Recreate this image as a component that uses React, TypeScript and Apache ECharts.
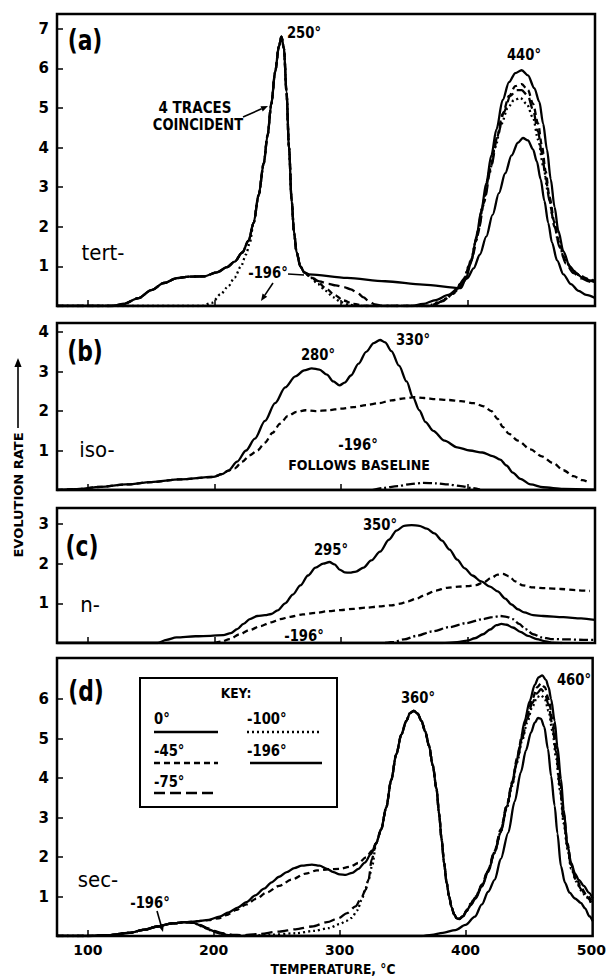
import { useEffect, useRef } from "react";
import * as echarts from "echarts";

type P = [number, number];

// ---------- axes ----------
const xMin = 75.5;
const xMax = 501;
const xTickValues = [100, 200, 300, 400];
const xLabelValues = [100, 200, 300, 400, 500];
const yTicksA = [1, 2, 3, 4, 5, 6, 7];
const yTicksB = [1, 2, 3, 4];
const yTicksC = [1, 2, 3];
const yTicksD = [1, 2, 3, 4, 5, 6];
const yMaxA = 7.37;
const yMaxB = 4.23;
const yMaxC = 3.4;
const yMaxD = 7.04;

const keyLabels = ["0°", "-45°", "-75°", "-100°", "-196°"];

// ---------- (a) tert- ----------
const tertRise0: P[] = [[75.5, 0], [118, 0], [128, 0.05], [140, 0.2], [150, 0.4], [160, 0.58], [170, 0.7], [180, 0.74], [192, 0.75], [202, 0.85], [210, 0.98], [216, 1.12], [222, 1.35], [227, 1.65]];
const tertRise100: P[] = [[75.5, 0], [190, 0], [198, 0.08], [205, 0.3], [211, 0.5], [216, 0.72], [221, 1.0], [225, 1.3], [228, 1.6]];
const tertPeak250: P[] = [[231, 2.1], [235, 2.8], [239, 3.6], [242, 4.3], [245, 5.1], [248, 5.9], [251, 6.55], [253, 6.8], [255, 6.5], [257, 5.4], [259, 4.0], [261, 2.7], [263, 1.85], [265, 1.35], [268, 1.0], [271, 0.85]];
const tert0Tail: P[] = [[275, 0.8], [305, 0.71], [335, 0.625], [365, 0.54], [395, 0.45], [399, 0.7], [403, 1.1], [407, 1.7], [411, 2.4], [415, 3.1], [419, 3.8], [423, 4.45], [428, 5.2], [433, 5.65], [438, 5.88], [443, 5.95], [448, 5.82], [453, 5.5], [457, 5.15], [460, 4.6], [463, 3.95], [466, 3.2], [469, 2.5], [472, 1.9], [476, 1.38], [481, 1.0], [486, 0.82], [491, 0.72], [496, 0.65], [501, 0.6]];
const tert45Tail: P[] = [[276, 0.74], [282, 0.6], [288, 0.45], [295, 0.28], [302, 0.14], [310, 0.05], [320, 0], [370, 0], [380, 0.12], [389, 0.32], [397, 0.65], [403, 1.15], [408, 1.8], [413, 2.6], [418, 3.45], [423, 4.2], [428, 4.85], [433, 5.3], [438, 5.55], [443, 5.6], [448, 5.45], [452, 5.1], [456, 4.6], [459, 4.05], [462, 3.4], [465, 2.75], [469, 2.1], [473, 1.55], [478, 1.12], [484, 0.88], [490, 0.75], [496, 0.68], [501, 0.63]];
const tert75Tail: P[] = [[276, 0.74], [283, 0.62], [290, 0.56], [296, 0.52], [302, 0.48], [308, 0.42], [313, 0.33], [318, 0.22], [322, 0.12], [327, 0.04], [333, 0], [372, 0], [382, 0.15], [390, 0.35], [398, 0.7], [404, 1.25], [409, 1.95], [414, 2.75], [419, 3.55], [424, 4.3], [429, 4.9], [434, 5.3], [439, 5.45], [443, 5.45], [448, 5.3], [452, 4.95], [456, 4.4], [459, 3.85], [462, 3.25], [465, 2.65], [469, 2.0], [473, 1.48], [478, 1.07], [484, 0.83], [490, 0.7], [496, 0.62], [501, 0.56]];
const tert100Tail: P[] = [[276, 0.72], [282, 0.55], [288, 0.38], [294, 0.22], [300, 0.1], [307, 0.03], [315, 0], [368, 0], [378, 0.1], [388, 0.3], [396, 0.6], [402, 1.05], [407, 1.65], [412, 2.5], [417, 3.3], [422, 4.0], [427, 4.6], [432, 5.0], [437, 5.2], [442, 5.25], [447, 5.1], [452, 4.75], [456, 4.2], [460, 3.55], [464, 2.85], [468, 2.2], [472, 1.62], [477, 1.17], [483, 0.9], [490, 0.75], [496, 0.66], [501, 0.6]];
const tert196: P[] = [[75.5, 0], [355, 0], [365, 0.05], [375, 0.15], [385, 0.28], [393, 0.45], [400, 0.7], [405, 0.95], [410, 1.3], [415, 1.75], [420, 2.3], [425, 2.85], [430, 3.35], [435, 3.8], [440, 4.12], [444, 4.24], [448, 4.18], [452, 3.95], [455, 3.65], [458, 3.2], [461, 2.65], [464, 2.1], [467, 1.6], [471, 1.15], [476, 0.8], [482, 0.55], [488, 0.38], [494, 0.28], [501, 0.2]];

// ---------- (b) iso- ----------
const isoBase: P[] = [[75.5, 0], [90, 0.02], [110, 0.08], [130, 0.14], [150, 0.2], [173, 0.27], [199, 0.33], [206, 0.4], [211, 0.49]];
const iso0: P[] = [[218, 0.72], [225, 1.0], [232, 1.3], [240, 1.75], [248, 2.2], [256, 2.6], [264, 2.88], [271, 3.03], [277, 3.08], [283, 3.05], [289, 2.92], [294, 2.75], [299, 2.65], [303, 2.72], [308, 2.9], [314, 3.2], [320, 3.5], [326, 3.72], [331, 3.8], [335, 3.74], [340, 3.52], [346, 3.15], [352, 2.75], [357, 2.35], [362, 2.02], [367, 1.72], [373, 1.5], [382, 1.25], [392, 1.08], [402, 1.0], [412, 0.95], [420, 0.86], [426, 0.77], [431, 0.62], [436, 0.44], [442, 0.28], [450, 0.14], [460, 0.07], [476, 0.03], [501, 0.01]];
const iso45: P[] = [[216, 0.55], [222, 0.72], [228, 0.88], [234, 1.0], [240, 1.2], [246, 1.45], [252, 1.68], [258, 1.87], [265, 1.98], [272, 2.02], [280, 2.0], [290, 2.02], [300, 2.06], [310, 2.1], [320, 2.15], [330, 2.2], [340, 2.27], [350, 2.32], [358, 2.35], [366, 2.33], [375, 2.3], [385, 2.28], [395, 2.25], [405, 2.2], [413, 2.12], [419, 2.0], [424, 1.8], [428, 1.6], [433, 1.42], [440, 1.25], [450, 1.03], [459, 0.85], [468, 0.68], [476, 0.5], [484, 0.35], [491, 0.25], [497, 0.18]];
const iso75: P[] = [[325, 0], [333, 0.05], [345, 0.1], [355, 0.15], [365, 0.18], [375, 0.17], [385, 0.14], [395, 0.1], [403, 0.05], [410, 0.01]];
const iso196: P[] = [[75.5, 0], [501, 0]];

// ---------- (c) n- ----------
const n0: P[] = [[75.5, 0], [155, 0], [162, 0.08], [170, 0.14], [185, 0.17], [197, 0.18], [207, 0.2], [213, 0.25], [218, 0.35], [223, 0.48], [228, 0.6], [234, 0.68], [240, 0.7], [245, 0.73], [250, 0.82], [256, 1.0], [262, 1.22], [268, 1.45], [274, 1.7], [280, 1.9], [286, 2.0], [291, 2.04], [295, 1.98], [299, 1.85], [303, 1.78], [307, 1.77], [312, 1.8], [318, 1.9], [324, 2.08], [331, 2.3], [338, 2.6], [344, 2.83], [350, 2.95], [356, 2.97], [362, 2.95], [368, 2.88], [374, 2.76], [380, 2.58], [386, 2.35], [392, 2.1], [398, 1.88], [404, 1.7], [411, 1.55], [418, 1.42], [424, 1.3], [430, 1.12], [435, 0.97], [440, 0.85], [445, 0.77], [452, 0.7], [460, 0.68], [476, 0.65], [490, 0.62], [501, 0.58]];
const n45: P[] = [[200, 0], [206, 0.04], [212, 0.1], [220, 0.22], [228, 0.33], [236, 0.42], [245, 0.52], [252, 0.6], [260, 0.66], [270, 0.72], [280, 0.76], [290, 0.8], [300, 0.83], [310, 0.86], [320, 0.89], [330, 0.92], [340, 0.95], [347, 0.99], [353, 1.05], [360, 1.12], [367, 1.22], [375, 1.32], [384, 1.39], [393, 1.42], [400, 1.43], [407, 1.46], [413, 1.53], [419, 1.64], [424, 1.72], [428, 1.74], [433, 1.68], [438, 1.55], [444, 1.45], [452, 1.4], [462, 1.38], [474, 1.36], [486, 1.33], [497, 1.31]];
const n75: P[] = [[335, 0], [342, 0.03], [350, 0.09], [360, 0.18], [372, 0.29], [386, 0.4], [399, 0.5], [412, 0.6], [420, 0.65], [426, 0.68], [431, 0.66], [436, 0.6], [441, 0.48], [446, 0.35], [452, 0.22], [459, 0.14], [466, 0.1], [480, 0.09], [492, 0.08], [500, 0.08]];
const n196: P[] = [[75.5, 0], [380, 0], [392, 0.02], [400, 0.06], [406, 0.12], [412.5, 0.22], [418, 0.34], [423, 0.45], [427, 0.48], [431, 0.46], [436, 0.39], [442, 0.28], [448, 0.18], [455, 0.1], [462, 0.04], [468, 0.01], [475, 0]];

// ---------- (d) sec- ----------
const secBump: P[] = [[75.5, 0], [100, 0], [115, 0.02], [133, 0.08], [145, 0.16], [155, 0.24], [167, 0.32], [177, 0.35]];
const sec0Mid: P[] = [[186, 0.37], [196, 0.41], [204.5, 0.49], [212, 0.6], [219, 0.72], [226, 0.86], [233, 1.03], [240, 1.2], [246, 1.36], [252, 1.5], [258, 1.62], [264, 1.72], [270, 1.78], [278, 1.81], [284, 1.78], [290, 1.7], [295, 1.62], [300, 1.56], [305, 1.55], [310, 1.6], [315, 1.7], [320, 1.86], [325, 2.08], [329, 2.35]];
const sec45Mid: P[] = [[186, 0.37], [196, 0.4], [204, 0.45], [210, 0.53], [218, 0.66], [226, 0.8], [234, 0.95], [242, 1.1], [252, 1.27], [262, 1.43], [273, 1.58], [282, 1.66], [291, 1.69], [300, 1.7], [308, 1.75], [315, 1.85], [321, 1.99], [326, 2.17], [329, 2.35]];
const sec75Mid: P[] = [[184, 0.34], [189, 0.28], [195, 0.2], [200, 0.13], [207, 0.07], [215, 0.03], [222, 0.02], [235, 0.05], [252, 0.11], [265, 0.17], [278, 0.24], [290, 0.35], [299, 0.45], [306, 0.58], [312.6, 0.75], [317, 0.95], [320.7, 1.17], [323, 1.43], [325.5, 1.94], [329, 2.35]];
const sec100Mid: P[] = [[184, 0.33], [190, 0.25], [197, 0.15], [205, 0.07], [213, 0.02], [225, 0], [245, 0.03], [265, 0.07], [280, 0.13], [291.5, 0.2], [300, 0.3], [305, 0.38], [309.7, 0.46], [314, 0.65], [317.6, 0.92], [320.5, 1.2], [323, 1.43], [326, 1.8], [329, 2.35]];
const secPeak360: P[] = [[333, 2.7], [337, 3.25], [341, 3.95], [345, 4.6], [349, 5.1], [353, 5.45], [356, 5.65], [359, 5.7], [362, 5.63], [365, 5.45], [368, 5.18], [371, 4.82], [374, 4.32], [377, 3.72], [379, 3.1], [381, 2.45], [383, 1.85], [385, 1.35], [387, 1.0], [389, 0.72], [391, 0.55], [393, 0.45], [395, 0.43]];
const sec0Peak460: P[] = [[398, 0.5], [401, 0.64], [404, 0.78], [408, 0.95], [413, 1.25], [418, 1.62], [423, 2.1], [428, 2.62], [433, 3.3], [437, 3.85], [440, 4.3], [443, 4.8], [447, 5.45], [451, 5.95], [455, 6.36], [458, 6.55], [461, 6.6], [464, 6.48], [466, 6.3], [468, 6.0], [470.8, 5.45], [473, 4.8], [475.8, 3.98], [478, 3.2], [481, 2.3], [484, 1.85], [487, 1.58], [490, 1.42], [494, 1.27], [498, 1.1], [501, 0.95]];
const sec45Peak460: P[] = [[398, 0.5], [401, 0.66], [404, 0.82], [408, 1.0], [413, 1.3], [418, 1.68], [423, 2.15], [428, 2.7], [433, 3.35], [437, 3.9], [441, 4.5], [445, 5.1], [449, 5.6], [453, 6.0], [457, 6.3], [460, 6.4], [463, 6.3], [466, 6.0], [469, 5.5], [472, 4.8], [475, 3.95], [478, 3.1], [481, 2.35], [484, 1.8], [488, 1.45], [492, 1.22], [496, 1.05], [500, 0.9]];
const sec75Peak460: P[] = [[398, 0.5], [401, 0.64], [404, 0.8], [408, 0.98], [413, 1.28], [418, 1.66], [423, 2.12], [428, 2.66], [433, 3.3], [437, 3.85], [441, 4.45], [445, 5.0], [449, 5.5], [453, 5.9], [457, 6.15], [460, 6.25], [463, 6.15], [466, 5.85], [469, 5.35], [472, 4.65], [475, 3.8], [478, 2.95], [481, 2.25], [484, 1.75], [488, 1.4], [492, 1.18], [496, 1.0], [500, 0.85]];
const sec100Peak460: P[] = [[398, 0.5], [401, 0.63], [404, 0.78], [408, 0.97], [413, 1.27], [418, 1.64], [423, 2.1], [428, 2.64], [433, 3.25], [437, 3.8], [441, 4.4], [445, 4.95], [449, 5.4], [453, 5.8], [457, 6.05], [460, 6.1], [463, 6.0], [466, 5.7], [469, 5.2], [472, 4.5], [475, 3.7], [478, 2.85], [481, 2.2], [484, 1.7], [488, 1.38], [492, 1.15], [496, 0.98], [500, 0.82]];
const sec196: P[] = [[184, 0.33], [190, 0.26], [196, 0.17], [203, 0.08], [210, 0.03], [218, 0], [365, 0], [373, 0.03], [382, 0.08], [392, 0.15], [400, 0.28], [407.5, 0.49], [413, 0.8], [418, 1.12], [423.3, 1.43], [428, 1.95], [434, 2.62], [439, 3.4], [444, 4.15], [448, 4.7], [452, 5.15], [455, 5.4], [457.6, 5.52], [460, 5.5], [462.5, 5.3], [465.5, 4.74], [468, 4.05], [470.8, 3.3], [473, 2.6], [475.8, 1.77], [479, 1.35], [482.6, 1.1], [487, 0.95], [491.6, 0.84], [495, 0.7], [498.4, 0.5], [501, 0.38]];

// ---------- styles ----------
const FONT = "'DejaVu Sans', 'Liberation Sans', sans-serif";
const SOLID: any = "solid";
const DOT: any = [2, 3];
const DASH: any = [6, 4];
const LDASH: any = [11, 5];
const DASHDOT: any = [9, 3, 2, 3];
const SQ = 0.88;

const panels = [
  { top: 14, height: 292, max: yMaxA, ticks: yTicksA },
  { top: 323, height: 167, max: yMaxB, ticks: yTicksB },
  { top: 508, height: 135, max: yMaxC, ticks: yTicksC },
  { top: 658, height: 278, max: yMaxD, ticks: yTicksD },
];

function ser(name: string, idx: number, data: P[], type: any, width = 2.3) {
  return {
    type: "line",
    name,
    xAxisIndex: idx,
    yAxisIndex: idx,
    data,
    symbol: "none",
    showSymbol: false,
    smooth: 0.3,
    smoothMonotone: "x",
    silent: true,
    lineStyle: { color: "#000", width, type },
  };
}

function txt(text: string, x: number, y: number, size: number, weight: any = "bold", sx = SQ, extra: any = {}, align = "center") {
  return {
    type: "text",
    x,
    y,
    scaleX: sx,
    ...extra,
    style: {
      text,
      fontSize: size,
      fontWeight: weight,
      fontFamily: FONT,
      fill: "#000",
      align,
      verticalAlign: "middle",
      textAlign: align,
      textVerticalAlign: "middle",
    },
  };
}

function seg(x1: number, y1: number, x2: number, y2: number, w = 1.5, dash?: any) {
  return { type: "line", shape: { x1, y1, x2, y2 }, style: { stroke: "#000", lineWidth: w, lineDash: dash } };
}

function arrow(x1: number, y1: number, x2: number, y2: number, size = 7) {
  const a = Math.atan2(y2 - y1, x2 - x1);
  const bx = x2 - size * Math.cos(a);
  const by = y2 - size * Math.sin(a);
  const px = -Math.sin(a) * size * 0.4;
  const py = Math.cos(a) * size * 0.4;
  return [
    seg(x1, y1, bx, by, 1.6),
    { type: "polygon", shape: { points: [[x2, y2], [bx + px, by + py], [bx - px, by - py]] }, style: { fill: "#000" } },
  ];
}

export default function App() {
  const ref = useRef<HTMLDivElement>(null);
  useEffect(() => {
    const chart = echarts.init(ref.current!, null, { renderer: "svg" });

    const grid = panels.map((p) => ({
      left: 57,
      right: 14,
      top: p.top,
      height: p.height,
      show: true,
      borderColor: "#000",
      borderWidth: 2.5,
      backgroundColor: "transparent",
    }));
    const xAxis = panels.map((_, i) => ({
      type: "value",
      gridIndex: i,
      min: xMin,
      max: xMax,
      axisLine: { show: false },
      splitLine: { show: false },
      axisTick: { show: true, inside: true, length: 6, customValues: xTickValues, lineStyle: { color: "#000", width: 1.5 } },
      axisLabel: {
        show: i === 3,
        customValues: xLabelValues,
        color: "#000",
        fontSize: 14,
        fontWeight: "bold",
        fontFamily: FONT,
        margin: 7,
      },
    }));
    const yAxis = panels.map((p, i) => ({
      type: "value",
      gridIndex: i,
      min: 0,
      max: p.max,
      axisLine: { show: false },
      splitLine: { show: false },
      axisTick: { show: true, inside: true, length: 6, customValues: p.ticks, lineStyle: { color: "#000", width: 1.5 } },
      axisLabel: { customValues: p.ticks, color: "#000", fontSize: 15, fontWeight: "bold", fontFamily: FONT, margin: 8 },
    }));

    const series = [
      // (a)
      ser(keyLabels[0], 0, [...tertRise0, ...tertPeak250, ...tert0Tail], SOLID),
      ser(keyLabels[1], 0, [...tertRise0, ...tertPeak250, ...tert45Tail], DASH),
      ser(keyLabels[2], 0, [...tertRise0, ...tertPeak250, ...tert75Tail], LDASH),
      ser(keyLabels[3], 0, [...tertRise100, ...tertPeak250, ...tert100Tail], DOT),
      ser(keyLabels[4], 0, tert196, SOLID),
      // (b)
      ser(keyLabels[0], 1, [...isoBase, ...iso0], SOLID),
      ser(keyLabels[1], 1, [...isoBase, ...iso45], DASH),
      ser(keyLabels[2], 1, iso75, DASHDOT),
      ser(keyLabels[4], 1, iso196, SOLID),
      // (c)
      ser(keyLabels[0], 2, n0, SOLID),
      ser(keyLabels[1], 2, n45, DASH),
      ser(keyLabels[2], 2, n75, DASHDOT),
      ser(keyLabels[4], 2, n196, SOLID),
      // (d)
      ser(keyLabels[0], 3, [...secBump, ...sec0Mid, ...secPeak360, ...sec0Peak460], SOLID),
      ser(keyLabels[1], 3, [...secBump, ...sec45Mid, ...secPeak360, ...sec45Peak460], DASH),
      ser(keyLabels[2], 3, [...secBump, ...sec75Mid, ...secPeak360, ...sec75Peak460], LDASH),
      ser(keyLabels[3], 3, [...secBump, ...sec100Mid, ...secPeak360, ...sec100Peak460], DOT),
      ser(keyLabels[4], 3, [...secBump, ...sec196], SOLID),
    ];

    const graphic: any[] = [
      // panel (a)
      txt("(a)", 85, 41, 28, "bold", 0.78),
      txt("tert-", 103, 253, 22, "normal", 0.9),
      txt("4 TRACES", 195, 108, 15, "bold", 0.9),
      txt("COINCIDENT", 198, 125, 15, "bold", 0.87),
      ...arrow(243, 117, 268, 106),
      txt("250°", 304, 33, 15),
      txt("440°", 524, 55, 15),
      txt("-196°", 268, 273, 15),
      seg(288, 274, 304, 275, 1.5),
      ...arrow(273, 283, 261, 301),
      // panel (b)
      txt("(b)", 85, 352, 28, "bold", 0.78),
      txt("iso-", 97, 450, 22, "normal", 0.9),
      txt("280°", 318, 355, 15),
      txt("330°", 413, 340, 15),
      txt("-196°", 358, 445, 15),
      txt("FOLLOWS BASELINE", 359, 465, 14, "bold", 0.9),
      // panel (c)
      txt("(c)", 82, 547, 28, "bold", 0.78),
      txt("n-", 90, 605, 22, "normal", 0.9),
      txt("295°", 331, 550, 15),
      txt("350°", 380, 525, 15),
      txt("-196°", 304, 636, 15),
      // panel (d)
      txt("(d)", 86, 692, 28, "bold", 0.78),
      txt("sec-", 98, 880, 22, "normal", 0.9),
      txt("-196°", 150, 903, 15),
      ...arrow(157, 911, 163, 932),
      txt("360°", 418, 698, 15),
      txt("460°", 574, 680, 15),
      // key box
      { type: "rect", shape: { x: 140, y: 678, width: 197, height: 129 }, style: { fill: "#fff", stroke: "#000", lineWidth: 2 } },
      txt("KEY:", 236, 693, 14),
      txt(keyLabels[0], 154, 719, 15, "bold", SQ, {}, "left"),
      seg(154, 732, 218, 732, 2.3),
      txt(keyLabels[1], 154, 751, 15, "bold", SQ, {}, "left"),
      seg(154, 763, 218, 763, 2.3, DASH),
      txt(keyLabels[2], 154, 782, 15, "bold", SQ, {}, "left"),
      seg(154, 793, 218, 793, 2.3, LDASH),
      txt(keyLabels[3], 247, 719, 15, "bold", SQ, {}, "left"),
      seg(247, 732, 320, 732, 2.3, DOT),
      txt(keyLabels[4], 247, 751, 15, "bold", SQ, {}, "left"),
      seg(250, 763, 322, 763, 2.3),
      // axis titles
      txt("TEMPERATURE, °C", 333, 969, 14, "bold", 0.88),
      txt("EVOLUTION RATE", 18, 495, 13, "bold", 1, { rotation: Math.PI / 2 }),
      ...arrow(18, 428, 18, 358, 9),
    ];

    chart.setOption({
      animation: false,
      backgroundColor: "#fff",
      grid,
      xAxis,
      yAxis,
      series,
      graphic,
    });
    return () => chart.dispose();
  }, []);
  return <div ref={ref} style={{ position: "absolute", left: 0, top: 0, width: 609, height: 979 }} />;
}
